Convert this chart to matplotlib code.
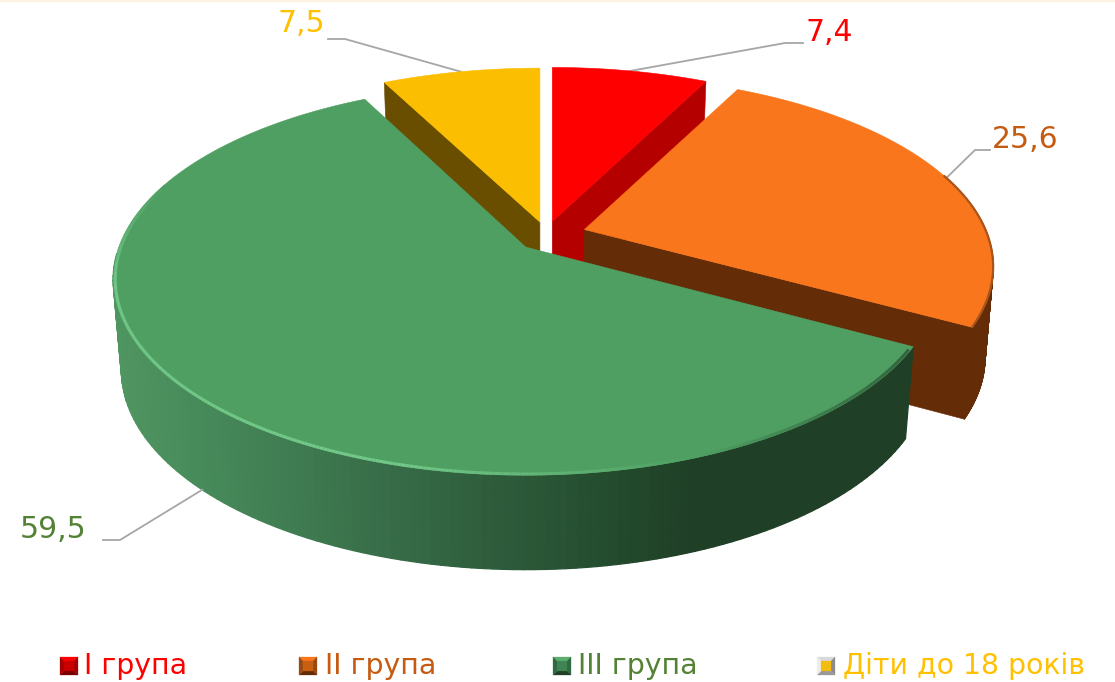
import numpy as np
import matplotlib
matplotlib.use("Agg")
import matplotlib.pyplot as plt
from matplotlib.patches import Polygon
from matplotlib.collections import PolyCollection, LineCollection
from matplotlib.colors import to_rgb

categories = ["I група", "II група", "III група", "Діти до 18 років"]
values = [7.4, 25.6, 59.5, 7.5]
value_labels = ["7,4", "25,6", "59,5", "7,5"]
explode = [0.068, 0.10, 0.07, 0.065]
top_colors = ["#ff0000", "#f9761c", "#4f9f63", "#fcbe00"]
side_colors = ["#b50000", "#652c08", "#1f3f26", "#6a4e00"]
text_colors = ["#ff0000", "#c55a11", "#548235", "#ffc000"]

CX, CY = 546, 236.2
RX_SLICE = [402, 401, 407, 402]
K_SLICE = [0.194, 0.194, 0.165, 0.194]
FRONT = 228
EX, EY, DEPTH, SHRINK, YSCALE = 402, 224, 90, 0.98, 1.02

fig = plt.figure(figsize=(11.15, 6.82), dpi=100, facecolor="white")
ax = fig.add_axes([0, 0, 1, 1])
ax.set_xlim(0, 1115)
ax.set_ylim(682, 0)
ax.axis("off")
ax.axhline(0.6, color="#fdf3e3", lw=1.5, zorder=0)

plt.rcParams["font.family"] = ["DejaVu Sans"]
total = sum(values)
edges = np.cumsum([0] + values) / total * 360.0


def apex(i):
    m = np.radians((edges[i] + edges[i + 1]) / 2)
    return CX + EX * explode[i] * np.sin(m), CY - EY * explode[i] * np.cos(m)


def rim(i, deg, low=False):
    t = np.radians(np.asarray(deg, dtype=float))
    X, Y = np.sin(t), -np.cos(t)
    k = K_SLICE[i]
    ry = FRONT * (1 - k)
    rx = RX_SLICE[i]
    w = 1 - k * Y
    ax0, ay0 = apex(i)
    if low:
        return ax0 + SHRINK * rx * X / w, ay0 + YSCALE * ry * Y / w + DEPTH
    return ax0 + rx * X / w, ay0 + ry * Y / w


def arc(i, a, b, low=False):
    d = np.linspace(a, b, 160)
    x, y = rim(i, d, low)
    return np.column_stack([x, y])


def top_face(i, z):
    a = apex(i)
    pts = np.vstack([[a], arc(i, edges[i], edges[i + 1])])
    ax.add_patch(Polygon(pts, closed=True, fc=top_colors[i], ec=top_colors[i], lw=0.4, zorder=z))


def radial_wall(i, deg, z):
    a = apex(i)
    rx0, ry0 = rim(i, deg)
    lx, ly = rim(i, deg, True)
    pts = [a, (rx0, ry0), (lx, ly), (a[0], a[1] + DEPTH)]
    ax.add_patch(Polygon(pts, closed=True, fc=side_colors[i], ec=side_colors[i], lw=0.4, zorder=z))


def outer_wall(i, a, b, z, color_fn):
    d = np.linspace(a, b, 120)
    xt, yt = rim(i, d)
    xb, yb = rim(i, d, True)
    polys, cols = [], []
    for j in range(len(d) - 1):
        polys.append([(xt[j], yt[j]), (xt[j + 1], yt[j + 1]), (xb[j + 1], yb[j + 1]), (xb[j], yb[j])])
        cols.append(color_fn((xt[j] + xt[j + 1]) / 2))
    ax.add_collection(PolyCollection(polys, facecolors=cols, edgecolors=cols, linewidths=0.9, zorder=z))


def green_grad(x):
    stops_x = [115, 200, 400, 620, 700, 920]
    stops_c = [to_rgb(c) for c in ["#4f9561", "#478a5a", "#366a46", "#234a2d", "#1f3f26", "#1f3f26"]]
    return tuple(np.interp(x, stops_x, [c[k] for c in stops_c]) for k in range(3))


# yellow and red (back)
radial_wall(3, edges[3], 1)
top_face(3, 2)
radial_wall(0, edges[1], 1)
top_face(0, 2)
# orange
radial_wall(1, edges[2], 3)
outer_wall(1, 80, edges[2], 3, lambda x: "#652c08")
top_face(1, 4)
o = arc(1, 72, edges[2])
ax.plot(o[:, 0], o[:, 1], color="#a9541a", lw=1.6, zorder=4.5, solid_capstyle="round")
# green
outer_wall(2, edges[2], 268, 5, green_grad)
top_face(2, 6)
d = np.linspace(edges[2] + 1, 290, 320)
xr, yr = rim(2, d)
inner = 0.995
xa, ya = apex(2)
xr2 = xa + (xr - xa) * inner
yr2 = ya + (yr - ya) * inner
segs = [[(xr2[j], yr2[j]), (xr2[j + 1], yr2[j + 1])] for j in range(len(d) - 1)]
light, base, dark = to_rgb("#72c888"), to_rgb(top_colors[2]), to_rgb("#2f5f3a")
dm = (d[:-1] + d[1:]) / 2
cols = []
for x, dg in zip((xr2[:-1] + xr2[1:]) / 2, dm):
    if x > 700:
        f = (x - 700) / 215
        cols.append(tuple(base[k] * (1 - f) + dark[k] * f for k in range(3)))
    else:
        f = min(1, (700 - x) / 300) * min(1, (290 - dg) / 30)
        cols.append(tuple(base[k] * (1 - f) + light[k] * f for k in range(3)))
ax.add_collection(LineCollection(segs, colors=cols, linewidths=2.2, zorder=7))

# leaders and labels
mids = [(edges[i] + edges[i + 1]) / 2 for i in range(4)]
leader_knees = [[(785, 43), (803, 43)], [(975, 150), (990, 150)], [(120, 540), (103, 540)], [(345, 39), (328, 39)]]
label_pos = [(805, 32.5), (992, 139.5), (20, 529.5), (277, 23)]
for i in range(4):
    x0, y0 = rim(i, mids[i], low=(i == 2))
    pts = [(x0, y0)] + leader_knees[i]
    ax.plot(*zip(*pts), color="#a6a6a6", lw=1.3, zorder=1.5 if i != 2 else 8)
    ax.text(label_pos[i][0], label_pos[i][1], value_labels[i], color=text_colors[i], fontsize=21.5,
            ha="left", va="center", zorder=9)


# legend
def bevel(x, y, s, cT, cL, cR, cB, cC):
    m = 4
    q = [(x, y), (x + s, y), (x + s, y + s), (x, y + s)]
    c = [(x + m, y + m), (x + s - m, y + m), (x + s - m, y + s - m), (x + m, y + s - m)]
    for k, col in enumerate([cT, cR, cB, cL]):
        ax.add_patch(Polygon([q[k], q[(k + 1) % 4], c[(k + 1) % 4], c[k]], closed=True,
                             fc=col, ec=col, lw=0.2, zorder=9))
    ax.add_patch(Polygon(c, closed=True, fc=cC, ec=cC, lw=0.2, zorder=10))


marker_x = [60, 299, 553, 817]
text_x = [84, 325, 578, 843]
marker_cols = [
    ("#ff0000", "#a80000", "#a80000", "#7a0000", "#c80000"),
    ("#f9761c", "#9a4a10", "#9a4a10", "#652c08", "#c86014"),
    ("#5cae70", "#2f6a40", "#2f6a40", "#1f3f26", "#3f8452"),
    ("#d9d9d9", "#ededed", "#8c8c8c", "#9a9a9a", "#f2bd10"),
]
for i, cat in enumerate(categories):
    bevel(marker_x[i], 657, 18, *marker_cols[i])
    ax.text(text_x[i], 666, cat, color=text_colors[i], fontsize=20.4, ha="left", va="center", zorder=11)

fig.savefig("out.png", dpi=100, facecolor="white")
